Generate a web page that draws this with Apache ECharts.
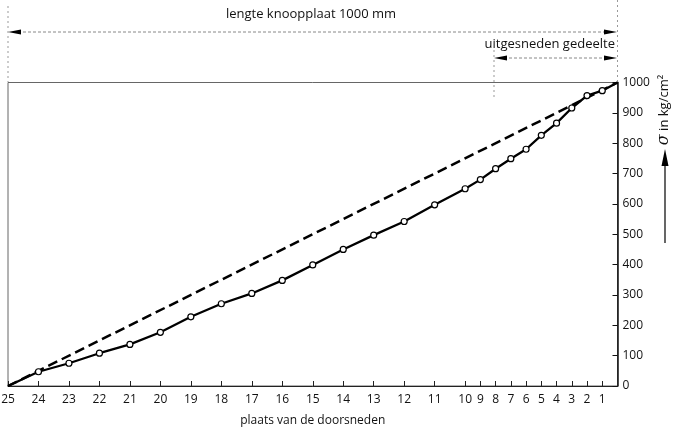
<!DOCTYPE html>
<html>
<head>
<meta charset="utf-8">
<script src="https://cdn.jsdelivr.net/npm/echarts@6/dist/echarts.min.js"></script>
<style>html,body{margin:0;padding:0;background:#fff}#c{width:673px;height:429px}</style>
</head>
<body>
<div id="c"></div>
<script>
// cross-section numbers and their position along the plate (mm)
var sections = [25,24,23,22,21,20,19,18,17,16,15,14,13,12,11,10,9,8,7,6,5,4,3,2,1];
var positionsMm = [0,50,100,150,200,250,300,350,400,450,500,550,600,650,700,750,775,800,825,850,875,900,925,950,975];
// measured stress sigma (kg/cm2) at each cross-section
var measured = [0,47,75,108,137,177,228,271,305,348,399,450,497,542,597,650,680,716,749,780,826,866,916,957,973];
// end of plate
var endPos = 1000, endValue = 1000;
// theoretical linear distribution (endpoints)
var linearLine = [[0,0],[1000,1000]];
var yTicks = [0,100,200,300,400,500,600,700,800,900,1000];

var FONT = 'Open Sans';
var solidData = positionsMm.map(function(p,i){
  var d = {value:[p, measured[i]]};
  if (i === 0) d.symbol = 'none';
  return d;
});
solidData.push({value:[endPos,endValue], symbol:'none'});

var chart = echarts.init(document.getElementById('c'));

function arrowH(x1, x2, y){
  return [
    {type:'line', shape:{x1:x1+10,y1:y,x2:x2-10,y2:y}, style:{stroke:'#888',lineWidth:1,lineDash:[3,2]}},
    {type:'polygon', shape:{points:[[x1,y],[x1+13,y-2.5],[x1+13,y+2.5]]}, style:{fill:'#000'}},
    {type:'polygon', shape:{points:[[x2,y],[x2-13,y-2.5],[x2-13,y+2.5]]}, style:{fill:'#000'}}
  ];
}

var graphics = [].concat(
  arrowH(8, 617, 32),
  arrowH(494, 617, 58),
  [
    {type:'line', shape:{x1:8,y1:6,x2:8,y2:82}, style:{stroke:'#999',lineWidth:1,lineDash:[2,3]}},
    {type:'line', shape:{x1:617.5,y1:0,x2:617.5,y2:82}, style:{stroke:'#999',lineWidth:1,lineDash:[2,3]}},
    {type:'line', shape:{x1:494,y1:50,x2:494,y2:99}, style:{stroke:'#999',lineWidth:1,lineDash:[2,3]}},
    {type:'text', x:311, y:14, style:{text:'lengte knoopplaat 1000 mm', font:'13px "'+FONT+'"', fill:'#111', align:'center', verticalAlign:'middle'}},
    {type:'text', x:615, y:44, style:{text:'uitgesneden gedeelte', font:'13px "'+FONT+'"', fill:'#111', align:'right', verticalAlign:'middle'}},
    {type:'text', x:664, y:110, rotation:Math.PI/2, style:{
      text:'{s|σ} in kg/cm²', fill:'#111', align:'center', verticalAlign:'middle',
      rich:{s:{font:'italic 16px "DejaVu Serif"', fill:'#111'}},
      font:'13px "'+FONT+'"'}},
    {type:'line', shape:{x1:665,y1:243,x2:665,y2:165}, style:{stroke:'#000',lineWidth:1.2}},
    {type:'polygon', shape:{points:[[665,149],[661.5,166],[668.5,166]]}, style:{fill:'#000'}}
  ]
);

chart.setOption({
  animation:false,
  backgroundColor:'#fff',
  grid:{left:8, right:55.5, top:82.5, bottom:43, outerBoundsMode:'none',
    show:true, borderColor:'#666', borderWidth:1, backgroundColor:'transparent'},
  xAxis:{
    type:'value', min:0, max:1000,
    name:'plaats van de doorsneden', nameLocation:'middle', nameGap:29,
    nameTextStyle:{fontFamily:FONT, fontSize:12, color:'#111'},
    axisLine:{show:true, onZero:false, lineStyle:{color:'#222', width:1}},
    axisTick:{show:true, inside:true, length:5, customValues:positionsMm, lineStyle:{color:'#222'}},
    axisLabel:{show:true, customValues:positionsMm, margin:8, fontFamily:FONT, fontSize:12, color:'#111',
      formatter:function(v){ var i = positionsMm.indexOf(v); return i>=0 ? String(sections[i]) : ''; }},
    splitLine:{show:false}
  },
  yAxis:{
    type:'value', min:0, max:1000, interval:100, position:'right',
    axisLine:{show:true, onZero:false, lineStyle:{color:'#111', width:1.5}},
    axisTick:{show:true, inside:true, length:5, lineStyle:{color:'#111'}},
    axisLabel:{show:true, margin:5, fontFamily:FONT, fontSize:12, color:'#111',
      customValues:yTicks, formatter:function(v){ return String(v); }},
    splitLine:{show:false}
  },
  series:[{
    type:'line', data:linearLine, symbol:'none', z:2,
    lineStyle:{color:'#000', width:2.5, type:[10,5]}
  },{
    type:'line', data:solidData, symbol:'circle', symbolSize:6, z:3,
    itemStyle:{color:'#fff', borderColor:'#000', borderWidth:1.2},
    lineStyle:{color:'#000', width:2.3}
  }],
  graphic:graphics
});
</script>
</body>
</html>
